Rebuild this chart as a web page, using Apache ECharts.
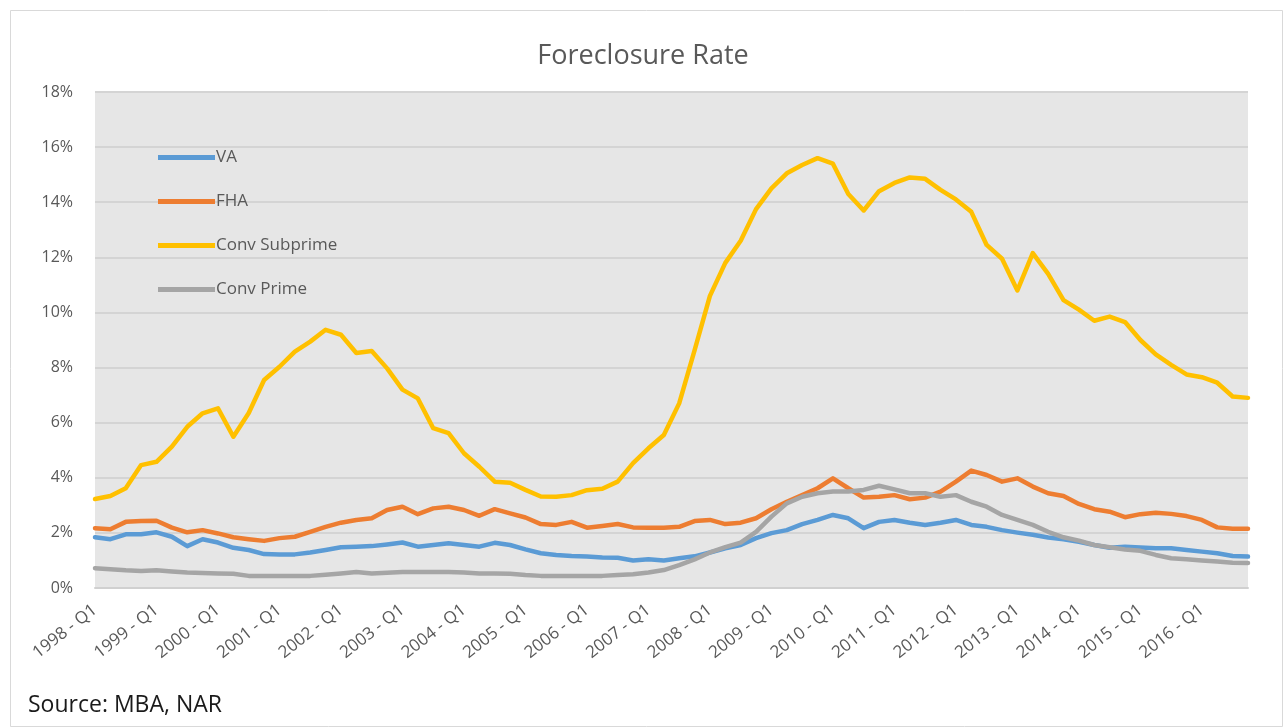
<!DOCTYPE html>
<html>
<head>
<meta charset="utf-8">
<script src="https://cdn.jsdelivr.net/npm/echarts@6/dist/echarts.min.js"></script>
<style>
html,body{margin:0;padding:0;background:#fff;}
#c{width:1286px;height:727px;}
</style>
</head>
<body>
<div id="c"></div>
<script>
const years = [1998,1999,2000,2001,2002,2003,2004,2005,2006,2007,2008,2009,2010,2011,2012,2013,2014,2015,2016];
const quarters = ['Q1','Q2','Q3','Q4'];
const categories = [];
years.forEach(y => quarters.forEach(q => categories.push(y + ' - ' + q)));

const va = [1.84,1.77,1.95,1.95,2.02,1.86,1.52,1.77,1.65,1.46,1.38,1.23,1.22,1.22,1.29,1.38,
  1.48,1.50,1.52,1.58,1.65,1.50,1.56,1.62,1.56,1.50,1.64,1.56,1.40,1.26,1.20,1.16,
  1.14,1.11,1.10,1.00,1.04,1.00,1.08,1.15,1.29,1.44,1.56,1.81,1.99,2.10,2.32,2.47,
  2.65,2.53,2.17,2.40,2.47,2.37,2.29,2.37,2.47,2.29,2.22,2.10,2.01,1.93,1.83,1.77,
  1.68,1.56,1.46,1.50,1.47,1.44,1.44,1.38,1.32,1.26,1.16,1.14];
const fha = [2.17,2.13,2.40,2.43,2.44,2.19,2.02,2.10,1.98,1.84,1.77,1.71,1.81,1.86,2.04,2.22,
  2.37,2.47,2.53,2.83,2.95,2.68,2.89,2.95,2.83,2.62,2.86,2.71,2.56,2.32,2.29,2.40,
  2.19,2.25,2.32,2.20,2.19,2.19,2.22,2.43,2.47,2.32,2.37,2.53,2.86,3.13,3.37,3.62,
  3.98,3.62,3.28,3.31,3.37,3.22,3.28,3.50,3.86,4.26,4.10,3.86,3.98,3.68,3.44,3.34,
  3.05,2.86,2.77,2.57,2.68,2.73,2.69,2.61,2.47,2.20,2.15,2.15];
const convSubprime = [3.23,3.34,3.62,4.46,4.58,5.13,5.85,6.34,6.52,5.49,6.35,7.55,8.03,8.58,8.94,9.37,
  9.19,8.53,8.60,7.97,7.20,6.88,5.80,5.62,4.89,4.40,3.86,3.82,3.56,3.32,3.31,3.37,
  3.55,3.60,3.86,4.53,5.07,5.55,6.70,8.62,10.60,11.80,12.60,13.75,14.50,15.05,15.35,15.60,
  15.40,14.30,13.70,14.40,14.70,14.90,14.85,14.45,14.10,13.65,12.45,11.95,10.80,12.15,11.40,10.45,
  10.10,9.70,9.85,9.65,9.00,8.48,8.10,7.75,7.65,7.45,6.95,6.90];
const convPrime = [0.72,0.68,0.64,0.62,0.64,0.60,0.56,0.54,0.53,0.52,0.44,0.44,0.44,0.44,0.44,0.48,
  0.53,0.58,0.53,0.55,0.58,0.58,0.58,0.58,0.56,0.53,0.53,0.52,0.47,0.44,0.44,0.44,
  0.44,0.44,0.47,0.50,0.56,0.65,0.83,1.04,1.29,1.48,1.65,2.04,2.59,3.07,3.31,3.44,
  3.50,3.50,3.56,3.71,3.58,3.44,3.44,3.31,3.37,3.13,2.95,2.65,2.47,2.29,2.04,1.84,
  1.72,1.56,1.48,1.40,1.35,1.20,1.08,1.04,1.00,0.96,0.92,0.91];

const seriesNames = ['VA','FHA','Conv Subprime','Conv Prime'];
const seriesColors = ['#5B9BD5','#ED7D31','#FFC000','#A5A5A5'];
const seriesData = [va, fha, convSubprime, convPrime];

const font = '"Open Sans", Lato, sans-serif';
const chart = echarts.init(document.getElementById('c'));
chart.setOption({
  backgroundColor: '#ffffff',
  animation: false,
  title: {
    text: 'Foreclosure Rate',
    left: 'center', top: 38,
    textStyle: {fontFamily: font, fontSize: 27, fontWeight: 'normal', color: '#595959'}
  },
  graphic: [
    {type: 'rect', left: 8, top: 8, shape: {width: 1272, height: 716},
     style: {fill: 'none', stroke: '#d9d9d9', lineWidth: 1}, silent: true, z: -1},
    {type: 'text', left: 28, top: 694,
     style: {text: 'Source: MBA, NAR', fontFamily: font, fontSize: 23, fill: '#1a1a1a'}}
  ],
  legend: {
    orient: 'vertical', left: 153, top: 144, itemGap: 27,
    itemWidth: 57, itemHeight: 5, icon: 'rect',
    textStyle: {fontFamily: font, fontSize: 17, color: '#595959', padding: [0,0,0,-4]},
    data: seriesNames
  },
  grid: {
    left: 95, right: 38, top: 92, bottom: 139,
    show: true, backgroundColor: '#e6e6e6', borderWidth: 0
  },
  xAxis: {
    type: 'category', data: categories, boundaryGap: false,
    axisLine: {show: true, lineStyle: {color: '#d0d0d0', width: 2}},
    axisTick: {show: false},
    axisLabel: {interval: 3, rotate: 38, fontFamily: font, fontSize: 17, color: '#595959', margin: 20}
  },
  yAxis: {
    type: 'value', min: 0, max: 18, interval: 2,
    axisLine: {show: false}, axisTick: {show: false},
    axisLabel: {formatter: '{value}%', fontFamily: font, fontSize: 16, color: '#595959', margin: 22},
    splitLine: {lineStyle: {color: '#d4d4d4', width: 2}}
  },
  series: seriesNames.map((n, i) => ({
    name: n, type: 'line', data: seriesData[i], symbol: 'none',
    lineStyle: {width: 4.5, color: seriesColors[i], cap: 'round', join: 'round'},
    itemStyle: {color: seriesColors[i]}
  }))
});
</script>
</body>
</html>
